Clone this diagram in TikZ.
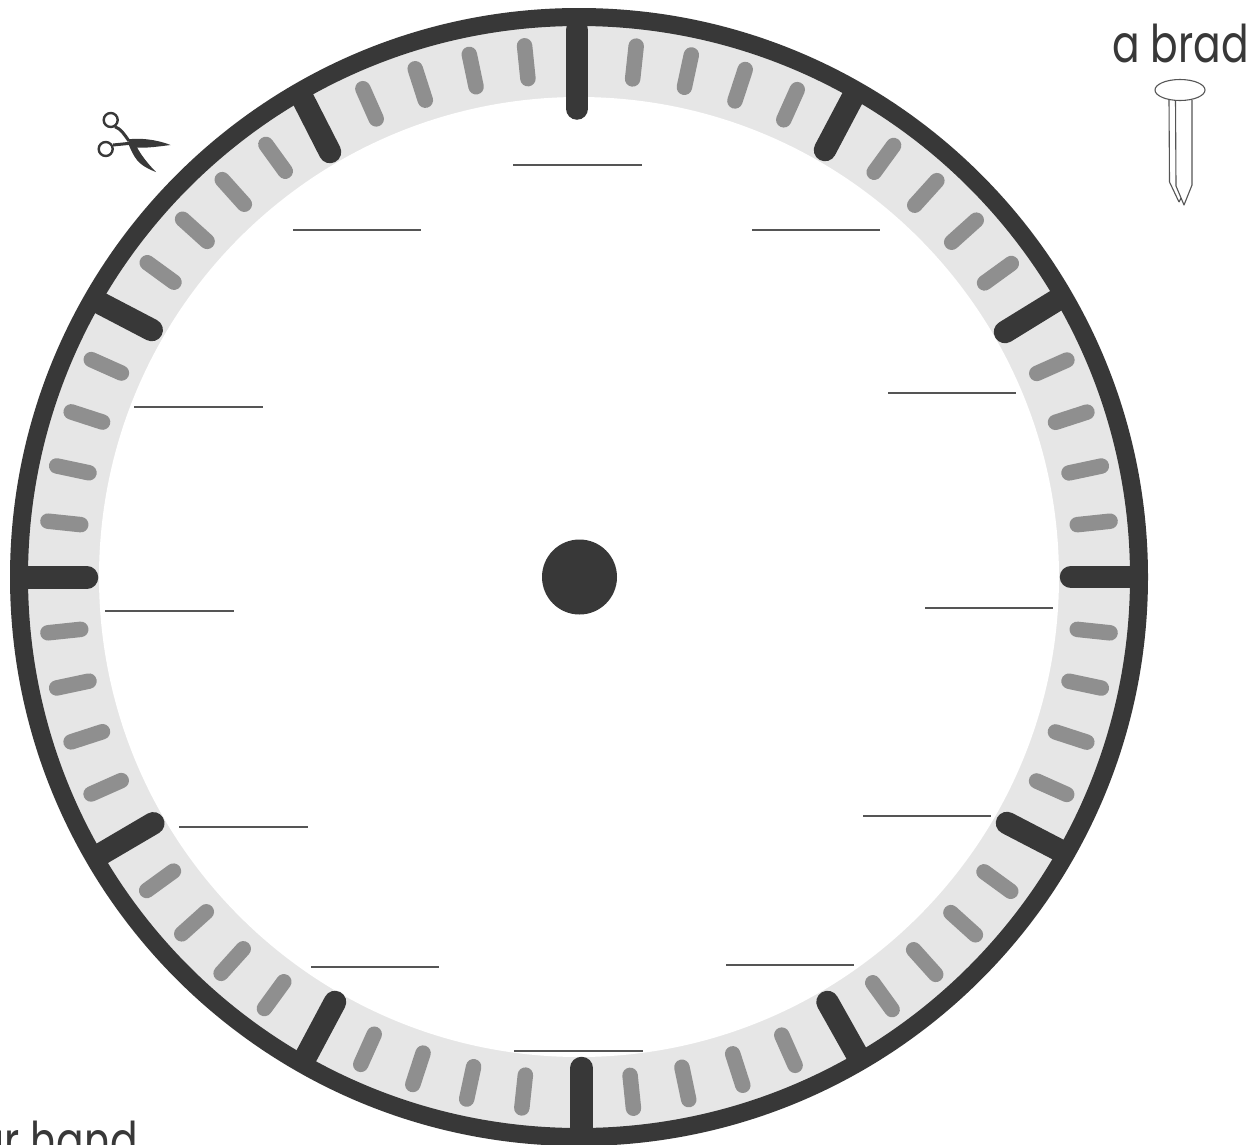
\documentclass[tikz,border=0pt]{standalone}
\usepackage{fontspec}
\newfontfamily\capfont[FakeStretch=0.785]{Poppins}
\definecolor{ringc}{HTML}{383838}
\definecolor{bandc}{HTML}{E6E6E6}
\definecolor{minc}{HTML}{8F8F8F}
\definecolor{linec}{HTML}{555555}
\tikzset{
  hourtick/.style={line width=22.5pt,line cap=round,draw=ringc},
  mintick/.style={line width=15.5pt,line cap=round,draw=minc},
  blank/.style={line width=1.3pt,draw=linec},
  caption/.style={inner sep=0pt,anchor=base west,font=\capfont\fontsize{52}{52}\selectfont,text=ringc},
  thinpen/.style={line width=1.1pt,draw=linec}
}
\begin{document}
\begin{tikzpicture}[x=1pt,y=-1pt]
\useasboundingbox (0,0) rectangle (1251,1144);
\clip (0,0) rectangle (1251,1144);
\fill[white] (0,0) rectangle (1251,1144);
\coordinate (c) at (579,577);
% band
\fill[bandc] (c) circle[radius=556];
\fill[white] (c) circle[radius=480];
% minute ticks
\foreach \a in {0,...,59}{
  \pgfmathtruncatemacro{\m}{mod(\a,5)}
  \ifnum\m=0\relax\else
    \pgfmathsetmacro{\ang}{\a*6-0.15*cos(\a*6)*cos(\a*6)}
    \draw[mintick,rotate around={\ang:(c)}] (579,43) -- (579,76);
  \fi
}
% hour ticks
\foreach \xa/\ya/\xb/\yb in {577/108.5/577/30, 825/150/853/97, 1005/332/1057/300, 1071/577/1131/577, 1007/823/1059/850, 827.5/1002/857/1054.5, 581.7/1068/581.7/1129, 335/1002/305.7/1057, 153.3/823.3/101/854, 87/577.5/27/577.5, 151.7/330/100/303, 330/152/303/99}{
  \draw[hourtick] (\xa,\ya) -- (\xb,\yb);
}
% ring
\draw[ringc,line width=18pt] (c) circle[radius=560];
% centre
\fill[ringc] (579.5,577) circle[radius=37.5];
% blanks
\foreach \xa/\xb/\yy in {513/642/165,293/421/230,752/880/230,888/1016/393,134/263/407,925/1053/608,105/234/611,863/991/816,179/308/827,726/854/965,311/439/967,514/643/1051}{
  \draw[blank] (\xa,\yy) -- (\xb,\yy);
}
% captions
\node[caption] (brad) at (1112,62) {a brad};
\node[caption] (hand) at (-22,1159) {ur hand};
% brad
\draw[thinpen] (1180,90) ellipse[x radius=25,y radius=10.5];
\draw[thinpen,line join=round] (1169,100) -- (1169.5,182) -- (1179,202);
\draw[thinpen,line join=round] (1175.5,100) -- (1176,186) -- (1184,205) -- (1192,185) -- (1192,100);
\draw[thinpen] (1179,202) -- (1181,198);
% scissors
\draw[ringc,line width=2.4pt] (110.7,120) circle[radius=7];
\draw[ringc,line width=2.4pt] (105.7,149) circle[radius=7];
\draw[ringc,line width=3pt] (115,126.7) .. controls (121,129) and (124,134) .. (129,141);
\draw[ringc,line width=3pt] (113,145) -- (130,143.3);
\fill[ringc] (128,139.3) .. controls (140,138) and (155,139) .. (170.5,145) .. controls (155,147) and (140,149) .. (130,146.7) -- cycle;
\fill[ringc] (128,143) -- (136.7,146.7) .. controls (141,155) and (148,164) .. (156,172) .. controls (148,169) and (141,165) .. (137,160) .. controls (133,155) and (131,150) .. cycle;
\end{tikzpicture}
\end{document}
